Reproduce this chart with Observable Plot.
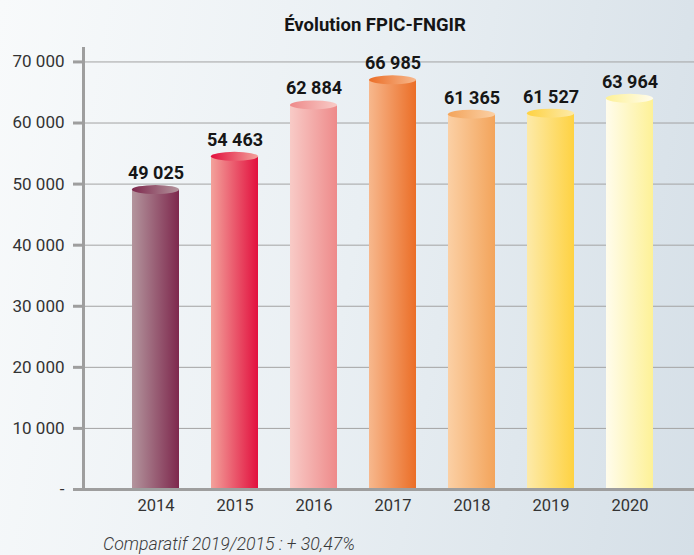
<!DOCTYPE html>
<html>
<head>
<meta charset="utf-8">
<script src="https://cdn.jsdelivr.net/npm/d3@7"></script>
<script src="https://cdn.jsdelivr.net/npm/@observablehq/plot@0.6"></script>
<style>
  body { margin: 0; }
  #wrap {
    width: 694px; height: 555px; position: relative; overflow: hidden;
    background: linear-gradient(100deg, #f8fafb 0%, #e9eff3 50%, #d5dfe7 100%);
    font-family: Roboto, "DejaVu Sans Condensed", sans-serif;
  }
  #title {
    position: absolute; left: 375px; top: 14px; transform: translateX(-50%);
    font-size: 18.5px; line-height: 22px; font-weight: bold; color: #151515; white-space: nowrap;
  }
  #chart { position: absolute; left: 0; top: 40px; }
  #caption {
    position: absolute; left: 103px; top: 535px;
    font-size: 17.7px; line-height: 18px; font-style: italic; font-weight: 300; color: #3a3a3a; white-space: nowrap;
  }
</style>
</head>
<body>
<div id="wrap">
  <div id="title">Évolution FPIC-FNGIR</div>
  <div id="chart"></div>
  <div id="caption">Comparatif 2019/2015 : + 30,47%</div>
</div>
<script>
const years = ["2014", "2015", "2016", "2017", "2018", "2019", "2020"];
const values = [49025, 54463, 62884, 66985, 61365, 61527, 63964];
const yTicks = [0, 10000, 20000, 30000, 40000, 50000, 60000, 70000];

const lightColors = ["#b3959d", "#f3a29b", "#f8cbc7", "#f7b88d", "#fbd0a5", "#fdeaa9", "#fffcec"];
const darkColors  = ["#7e284d", "#e2103e", "#ee8a8a", "#eb6e27", "#f3a45b", "#fed242", "#fdf197"];

const data = years.map((year, i) => ({year, value: values[i], body: `url(#body${i})`, cap: `url(#cap${i})`}));

const fmt = d => d3.format(",")(d).replace(/,/g, " ");

function defs() {
  const d = d3.create("svg:defs");
  years.forEach((y, i) => {
    const b = d.append("linearGradient").attr("id", `body${i}`).attr("x1", 0).attr("x2", 1).attr("y1", 0).attr("y2", 0);
    b.append("stop").attr("offset", 0).attr("stop-color", lightColors[i]);
    b.append("stop").attr("offset", 1).attr("stop-color", darkColors[i]);
    const c = d.append("linearGradient").attr("id", `cap${i}`).attr("x1", 0).attr("x2", 1).attr("y1", 0).attr("y2", 0);
    c.append("stop").attr("offset", 0).attr("stop-color", darkColors[i]);
    c.append("stop").attr("offset", 1).attr("stop-color", lightColors[i]);
  });
  return d.node();
}

function caps(index, scales) {
  const x = scales.x, y = scales.y, bw = x.bandwidth();
  const g = d3.create("svg:g");
  g.selectAll("ellipse").data(data).join("ellipse")
    .attr("cx", d => x(d.year) + bw / 2)
    .attr("cy", d => y(d.value))
    .attr("rx", bw / 2)
    .attr("ry", 4.5)
    .attr("fill", d => d.cap);
  return g.node();
}

const plot = Plot.plot({
  width: 694,
  height: 485,
  marginLeft: 83,
  marginRight: 0,
  marginTop: 8,
  marginBottom: 36,
  style: {background: "transparent", fontFamily: "Roboto, 'DejaVu Sans Condensed', sans-serif", overflow: "visible"},
  x: {domain: years, insetLeft: 31, insetRight: 23, paddingInner: 0.4, paddingOuter: 0.2, label: null},
  y: {domain: [0, 72200], label: null},
  color: {type: "identity"},
  marks: [
    defs,
    Plot.ruleY(yTicks, {filter: d => d > 0, stroke: "#a3a3a3", strokeWidth: 1}),
    Plot.barY(data, {x: "year", y: "value", fill: "body"}),
    caps,
    Plot.text(data, {x: "year", y: "value", text: d => fmt(d.value), dy: -11, lineAnchor: "bottom",
      fontWeight: "bold", fontSize: 18, fill: "#161616"}),
    Plot.ruleY([0], {stroke: "#9e9e9e", strokeWidth: 3}),
    Plot.frame({anchor: "left", stroke: "#9e9e9e", strokeWidth: 3}),
    Plot.axisY({ticks: yTicks, tickSize: 10, tickPadding: 9, tickFormat: d => d === 0 ? "-" : fmt(d),
      stroke: "#9e9e9e", strokeWidth: 3, fill: "#333", fontSize: 17, label: null}),
    Plot.axisX({tickSize: 0, tickPadding: 10, fill: "#333", fontSize: 16.5, label: null})
  ]
});
document.getElementById("chart").appendChild(plot);
</script>
</body>
</html>
